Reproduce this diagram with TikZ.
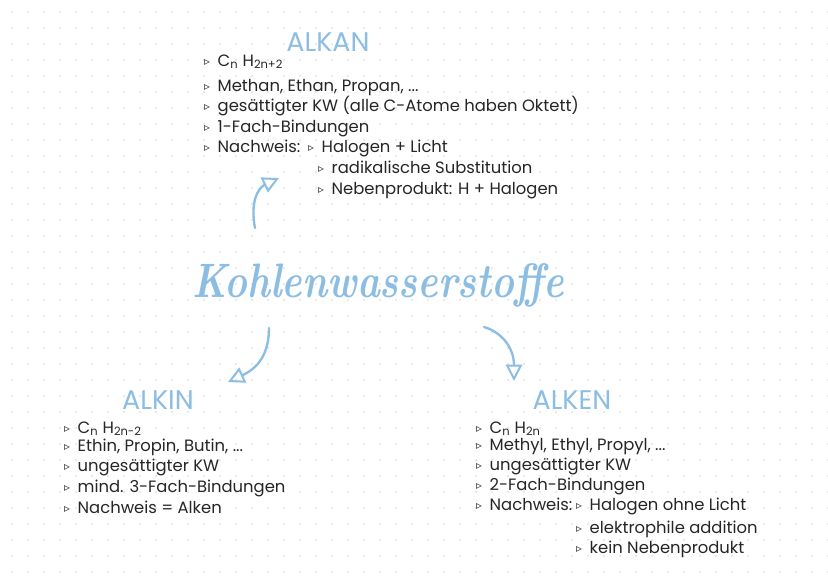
\documentclass[tikz,border=0pt]{standalone}
\usepackage{fontspec}
\usetikzlibrary{arrows.meta}
\newfontfamily\hand{Poppins}
\newfontfamily\symb{DejaVu Sans}
\definecolor{kwblue}{HTML}{8CBDE3}
\definecolor{dotgray}{HTML}{D4D4D4}
\newcommand{\bul}{\makebox[11.5pt][l]{\raisebox{0.8pt}{\symb\fontsize{10}{10}\selectfont ▹}}}

\begin{document}
\begin{tikzpicture}[x=0.03cm,y=-0.03cm]
	\tikzstyle{head}=[anchor=base,inner sep=0,text=kwblue,font=\hand\fontsize{23}{23}\selectfont]
	\tikzstyle{item}=[anchor=base west,inner sep=0,text=black!85,font=\hand\fontsize{14}{16}\selectfont]
	\tikzstyle{bow}=[draw=kwblue,line width=2pt,line cap=round,-{Triangle[open,length=14pt,width=14pt,line width=1.7pt]}]
	\useasboundingbox (0,0) rectangle (828,586);
	\fill[white] (0,0) rectangle (828,586);
	\foreach \i in {0,...,51}
		\foreach \j in {0,...,35}
			\fill[dotgray] (12+16*\i,12+16*\j) circle[radius=0.7pt];
	\node[anchor=base,inner sep=0,text=kwblue,font=\fontsize{33}{36}\selectfont\bfseries\itshape] (kw) at (378,297) {\scalebox{1}[1.25]{Kohlenwasserstoffe}};
	\node[head] (alkan) at (328,51) {ALKAN};
	\node[head] (alkin) at (158,409) {ALKIN};
	\node[head] (alken) at (572,409) {ALKEN};
	\node[item] (alkan1) at (204,66) {\bul C\textsubscript{n} H\textsubscript{2n+2}};
	\node[item] (alkan2) at (204,91) {\bul Methan, Ethan, Propan, ...};
	\node[item] (alkan3) at (204,111) {\bul gesättigter KW (alle C-Atome haben Oktett)};
	\node[item] (alkan4) at (204,132) {\bul 1-Fach-Bindungen};
	\node[item] (alkan5) at (204,152) {\bul Nachweis:};
	\node[item] (alkanN1) at (308,152) {\bul Halogen + Licht};
	\node[item] (alkanN2) at (318,173) {\bul radikalische Substitution};
	\node[item] (alkanN3) at (318,194) {\bul Nebenprodukt: H + Halogen};
	\node[item] (alkin1) at (64,433) {\bul C\textsubscript{n} H\textsubscript{2n-2}};
	\node[item] (alkin2) at (64,451) {\bul Ethin, Propin, Butin, ...};
	\node[item] (alkin3) at (64,471) {\bul ungesättigter KW};
	\node[item] (alkin4) at (64,492) {\bul mind. 3-Fach-Bindungen};
	\node[item] (alkin5) at (64,513) {\bul Nachweis = Alken};
	\node[item] (alken1) at (476,433) {\bul C\textsubscript{n} H\textsubscript{2n}};
	\node[item] (alken2) at (476,450) {\bul Methyl, Ethyl, Propyl, ...};
	\node[item] (alken3) at (476,470) {\bul ungesättigter KW};
	\node[item] (alken4) at (476,490) {\bul 2-Fach-Bindungen};
	\node[item] (alken5) at (476,510) {\bul Nachweis:};
	\node[item] (alkenN1) at (576,510) {\bul Halogen ohne Licht};
	\node[item] (alkenN2) at (576,533) {\bul elektrophile addition};
	\node[item] (alkenN3) at (576,553) {\bul kein Nebenprodukt};
	\coordinate (upS) at (255,228);
	\coordinate (upE) at (279,178);
	\coordinate (dlS) at (269,328);
	\coordinate (dlE) at (228,382);
	\coordinate (drS) at (484,327);
	\coordinate (drE) at (514,381);
	\draw[bow] (upS) .. controls (250,202) and (258,188) .. (upE);
	\draw[bow] (dlS) .. controls (269,354) and (258,368) .. (dlE);
	\draw[bow] (drS) .. controls (504,333) and (514,350) .. (drE);
\end{tikzpicture}
\end{document}
